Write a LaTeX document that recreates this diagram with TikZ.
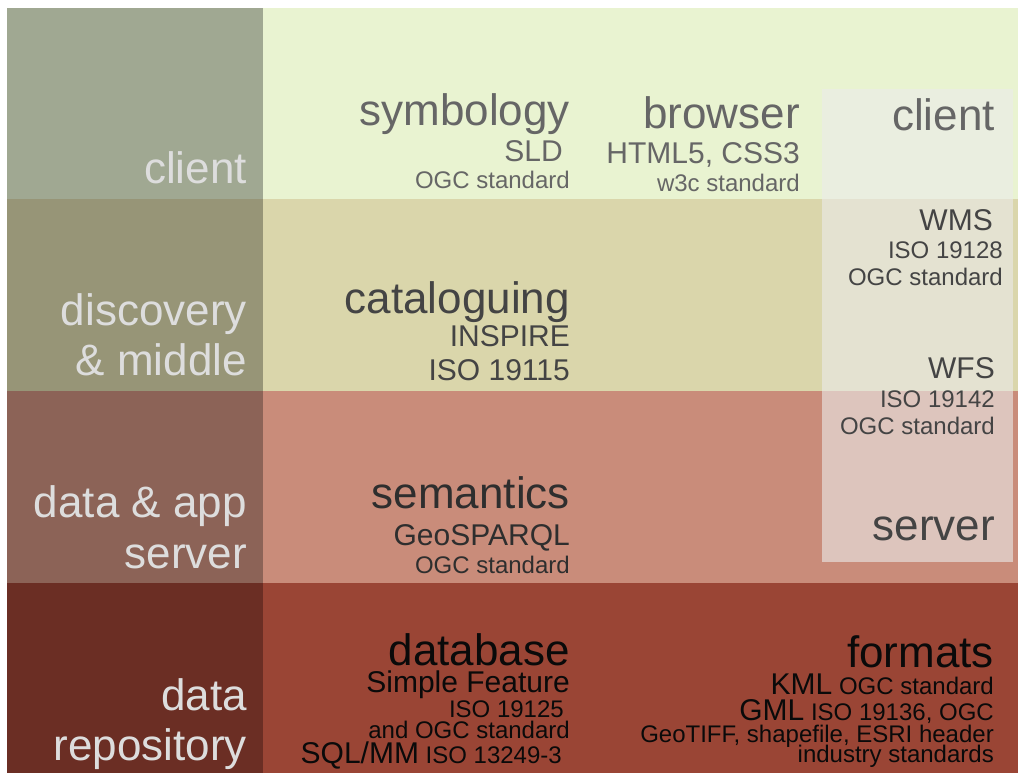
\documentclass[tikz,border=0pt]{standalone}
\usepackage{fontspec}
\setmainfont{Liberation Sans}
\usepackage{tikz}
\definecolor{clientleft}{HTML}{A0A892}
\definecolor{clientright}{HTML}{E9F3D1}
\definecolor{discleft}{HTML}{979577}
\definecolor{discright}{HTML}{DAD6AB}
\definecolor{serverleft}{HTML}{8C6357}
\definecolor{serverright}{HTML}{C98C7A}
\definecolor{repoleft}{HTML}{6B2E24}
\definecolor{reporight}{HTML}{9A4535}
\definecolor{overlaygray}{HTML}{EBEBEB}
\definecolor{labelgray}{HTML}{DDDDDD}
\definecolor{clienttext}{HTML}{666666}
\definecolor{disctext}{HTML}{444444}
\definecolor{servertext}{HTML}{2E2E2E}
\definecolor{repotext}{HTML}{0A0A0A}
\newcommand{\bigsize}{\fontsize{44}{50}\selectfont}
\newcommand{\midsize}{\fontsize{30}{34}\selectfont}
\newcommand{\smallsize}{\fontsize{24}{28}\selectfont}

\begin{document}
\begin{tikzpicture}[x=1pt,y=-1pt,
  lbl/.style={anchor=base east, inner sep=0pt},
  head/.style={lbl, font=\bigsize},
  sub/.style={lbl, font=\midsize},
  note/.style={lbl, font=\smallsize}]
\useasboundingbox (0,0) rectangle (1018,773);
% tier bands
\foreach \ya/\yb/\cl/\cr in {8/199/clientleft/clientright, 199/391/discleft/discright,
    391/583/serverleft/serverright, 583/773/repoleft/reporight} {
  \fill[\cl] (7,\ya) rectangle (263,\yb);
  \fill[\cr] (263,\ya) rectangle (1018,\yb);
}
% client/server box
\fill[overlaygray, fill opacity=0.6] (822,89) rectangle (1013,562);

% tier names
\node[head, text=labelgray] (tclient) at (247,184) {client};
\node[head, text=labelgray] (tdisc) at (247,325) {discovery};
\node[head, text=labelgray] (tdisctwo) at (247,375) {\& middle};
\node[head, text=labelgray] (tserver) at (247,517) {data \& app};
\node[head, text=labelgray] (tservertwo) at (247,568) {server};
\node[head, text=labelgray] (trepo) at (247,710) {data};
\node[head, text=labelgray] (trepotwo) at (247,760) {repository};

% client tier
\node[head, text=clienttext] (sym) at (570,126) {symbology};
\node[sub, text=clienttext] (symsld) at (563,162) {SLD};
\node[note, text=clienttext] (symogc) at (570,189) {OGC standard};
\node[head, text=clienttext] (brow) at (800,129) {browser};
\node[sub, text=clienttext] (browhtml) at (800,164) {HTML5, CSS3};
\node[note, text=clienttext] (browwtc) at (800,192) {w3c standard};
\node[head, text=clienttext] (cs) at (995,131) {client};

% discovery tier
\node[head, text=disctext] (cat) at (570,313) {cataloguing};
\node[sub, text=disctext] (catinsp) at (570,346) {INSPIRE};
\node[sub, text=disctext] (catiso) at (570,380) {ISO 19115};
\node[sub, text=disctext] (wms) at (993,230) {WMS};
\node[note, text=disctext] (wmsiso) at (1003,258) {ISO 19128};
\node[note, text=disctext] (wmsogc) at (1003,285) {OGC standard};
\node[sub, text=disctext] (wfs) at (995,378) {WFS};
\node[note, text=disctext] (wfsiso) at (995,407) {ISO 19142};
\node[note, text=disctext] (wfsogc) at (995,434) {OGC standard};

% server tier
\node[head, text=servertext] (sem) at (570,508) {semantics};
\node[sub, text=servertext] (semgeo) at (570,545) {GeoSPARQL};
\node[note, text=servertext] (semogc) at (570,573) {OGC standard};
\node[head, text=disctext] (csserver) at (995,540) {server};

% repository tier
\node[head, text=repotext] (db) at (570,665) {database};
\node[sub, text=repotext] (dbsf) at (570,692) {Simple Feature};
\node[note, text=repotext] (dbiso) at (564,717) {ISO 19125};
\node[note, text=repotext] (dbogc) at (570,738) {and OGC standard};
\node[note, text=repotext] (dbsql) at (562,763) {{\midsize SQL/MM} ISO 13249-3};
\node[head, text=repotext] (fmt) at (994,667) {formats};
\node[note, text=repotext] (fmtkml) at (994,694) {{\midsize KML} OGC standard};
\node[note, text=repotext] (fmtgml) at (994,720) {{\midsize GML} ISO 19136, OGC};
\node[note, text=repotext] (fmttiff) at (994,742) {GeoTIFF, shapefile, ESRI header};
\node[note, text=repotext] (fmtind) at (994,762) {industry standards};
\end{tikzpicture}
\end{document}
